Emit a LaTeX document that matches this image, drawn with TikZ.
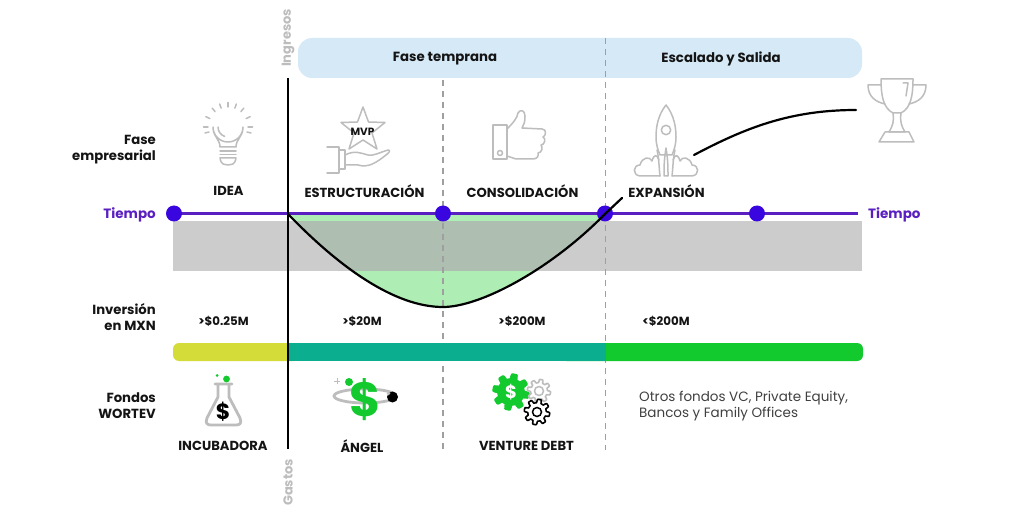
\documentclass[tikz,border=0pt]{standalone}
\usepackage{fontspec}
\setmainfont{Poppins}
\definecolor{purp}{HTML}{5A1FC0}
\definecolor{dotc}{HTML}{3A06E0}
\definecolor{bandg}{HTML}{CCCCCC}
\definecolor{lgreen}{HTML}{AEEDB4}
\definecolor{mixg}{HTML}{AEBFB1}
\definecolor{skyb}{HTML}{D6E9F6}
\definecolor{icong}{HTML}{BDBDBD}
\definecolor{vivid}{HTML}{12C92E}
\definecolor{ink}{HTML}{141414}
\definecolor{barY}{HTML}{D4DC3A}
\definecolor{barT}{HTML}{0BAF8F}
\newcommand{\mygear}[6]{% x y radius line-width draw fill
  \filldraw[draw=#5,fill=#6,line width=#4pt,line join=round]
    plot[samples=145,domain=0:360,smooth] ({#1+(#3+#3*0.16*min(1,max(-1,2.5*sin(8*\x))))*cos(\x)},{#2+(#3+#3*0.16*min(1,max(-1,2.5*sin(8*\x))))*sin(\x)}) -- cycle;}
\tikzset{
  lab/.style={font=\bfseries\fontsize{13.1}{15}\selectfont,text=ink,inner sep=0pt},
  amt/.style={font=\bfseries\fontsize{11.8}{14}\selectfont,text=ink,inner sep=0pt},
  side/.style={font=\bfseries\fontsize{13.2}{16}\selectfont,text=ink,inner sep=0pt,align=right,anchor=east},
  head/.style={font=\bfseries\fontsize{13.3}{15}\selectfont,text=ink,inner sep=0pt},
  tiempo/.style={font=\bfseries\fontsize{13.5}{15}\selectfont,text=purp,inner sep=0pt},
  axislab/.style={font=\bfseries\fontsize{13}{14}\selectfont,text=icong,inner sep=0pt,rotate=90},
  dotn/.style={circle,fill=dotc,minimum size=16pt,inner sep=0pt},
  guide/.style={draw=gray!75,line width=1.4pt,dash pattern=on 6pt off 5pt},
  ico/.style={draw=icong,line width=1.5pt,line join=round,line cap=round},
  curveline/.style={draw=black,line width=2.2pt,line cap=round},
}
\begin{document}
\begin{tikzpicture}[x=1pt,y=-1pt]
\useasboundingbox (0,0) rectangle (1024,518);
\fill[white] (0,0) rectangle (1024,518);
% top band
\fill[skyb,rounded corners=14pt] (298,38) rectangle (862,78);
\node[head] (ft) at (445,58.5) {Fase temprana};
\node[head] (es) at (721,58.5) {Escalado y Salida};
% gray band + green bowl
\fill[bandg] (173,221) rectangle (862,271);
\fill[lgreen] (288,214) .. controls (340,268) and (395,307) .. (443,307) .. controls (480,307) and (550,270) .. (605,214) -- cycle;
\begin{scope}
\clip (288,214) .. controls (340,268) and (395,307) .. (443,307) .. controls (480,307) and (550,270) .. (605,214) -- cycle;
\fill[mixg] (173,221) rectangle (862,271);
\end{scope}
% dashed guides
\coordinate (d1a) at (443,80); \coordinate (d1b) at (443,450);
\coordinate (d2a) at (605.5,38); \coordinate (d2b) at (605.5,450);
\draw[guide] (d1a) -- (d1b);
\draw[guide] (d2a) -- (d2b);
% bars
\fill[rounded corners=6pt,fill=vivid] (560,343) rectangle (863,361);
\fill[rounded corners=6pt,fill=barY] (173,343) rectangle (300,361);
\fill[fill=barT] (288,343) rectangle (606,361);
% time line
\coordinate (t0) at (174,213.5); \coordinate (t1) at (858,213.5);
\draw[purp,line width=2.4pt] (t0) -- (t1);
\node[dotn] (n1) at (174,213.5) {};
\node[dotn] (n2) at (443,213.5) {};
\node[dotn] (n3) at (605,213.5) {};
\node[dotn] (n4) at (757,213.5) {};
\node[tiempo,anchor=east] (tl) at (156,214.5) {Tiempo};
\node[tiempo,anchor=west] (tr) at (868,214.5) {Tiempo};
% vertical axis
\coordinate (ax0) at (288,78); \coordinate (ax1) at (288,449);
\draw[black,line width=2.2pt] (ax0) -- (ax1);
\node[axislab] (ing) at (288,38) {Ingresos};
\node[axislab] (gas) at (288,482.5) {Gastos};
% curve
\draw[curveline] (288,214) .. controls (340,268) and (395,307) .. (443,307) .. controls (480,307) and (550,270) .. (605,214) -- (622,198);
\draw[curveline] (694,155) .. controls (745,128) and (790,110) .. (856,110);
% side labels
\node[side] (s1) at (156,150) {Fase\\empresarial};
\node[side] (s2) at (156,317) {Inversión\\en MXN};
\node[side] (s3) at (156,405.5) {Fondos\\WORTEV};
% phase labels
\node[lab] (p1) at (228.5,191) {IDEA};
\node[lab] (p2) at (364.5,191) {ESTRUCTURACIÓN};
\node[lab] (p3) at (522.5,191) {CONSOLIDACIÓN};
\node[lab] (p4) at (666.5,191) {EXPANSIÓN};
% amounts
\node[amt] (a1) at (223.5,321) {>\$0.25M};
\node[amt] (a2) at (362,321) {>\$20M};
\node[amt] (a3) at (522,321) {>\$200M};
\node[amt] (a4) at (666,321) {<\$200M};
% funds
\node[lab] (f1) at (223,446) {INCUBADORA};
\node[lab] (f2) at (362,446) {ÁNGEL};
\node[lab] (f3) at (526.5,446) {VENTURE DEBT};
\node[inner sep=0pt,anchor=west,align=left,text=black!75,font=\fontsize{13.5}{16}\selectfont] (otros) at (639,406.5) {Otros fondos VC, Private Equity,\\Bancos y Family Offices};
% bulb
\draw[ico] (220,147) .. controls (220,139) and (213,137) .. (213,127) arc[start angle=180,end angle=0,radius=15] .. controls (243,137) and (236,139) .. (236,147) -- cycle;
\draw[ico] (218,127) arc[start angle=180,end angle=110,radius=10];
\draw[ico] (220,151) -- (236,151) (220,154.5) -- (236,154.5);
\draw[ico] (220,158) .. controls (221,165) and (225,165) .. (228,165) .. controls (231,165) and (235,165) .. (236,158) -- cycle;
\foreach \a in {0,25,50,70,90,110,130,155,180}{\draw[ico] ({228+20*cos(\a)},{127-20*sin(\a)}) -- ({228+24.5*cos(\a)},{127-24.5*sin(\a)});}
\draw[ico] (205,133) -- (209,132) (247,132) -- (251,133);
% star + hand
\draw[ico] (363,107) -- (368.5,122) -- (385,122.5) -- (372,133) -- (377,149) -- (363,140) -- (349,149) -- (354,133) -- (341,122.5) -- (357.5,122) -- cycle;
\node[font=\bfseries\fontsize{10.5}{11}\selectfont,text=ink,inner sep=0pt] (mvp) at (362.5,132) {MVP};
\draw[ico] (327,147) -- (339,147) -- (339,173) -- (327,173);
\draw[ico] (339,150) -- (345,150) -- (345,169) -- (339,169);
\draw[ico] (345,155) .. controls (355,150) and (360,153) .. (368,155) .. controls (374,156) and (378,153) .. (388,150) .. controls (391,150) and (389,153) .. (386,155) .. controls (376,163) and (368,168) .. (358,165) -- (345,165);
% thumb
\draw[ico] (493,125) rectangle (507,159);
\draw[ico] (507,129) .. controls (514,122) and (517,118) .. (518,113) .. controls (520,109) and (525,110) .. (525,116) .. controls (525,122) and (524,125) .. (522,128) -- (542,129) .. controls (547,129) and (546,136) .. (543,137) .. controls (546,138) and (545,145) .. (541,145) .. controls (543,147) and (542,153) .. (538,153) .. controls (539,156) and (537,159) .. (533,159) -- (516,159) -- (507,156);
\draw[ico] (500,153) circle (2.5);
% rocket
\draw[ico] (666,105) .. controls (658,115) and (656,127) .. (656,137) .. controls (656,145) and (658,150) .. (660,155) -- (672,155) .. controls (674,150) and (676,145) .. (676,137) .. controls (676,127) and (674,115) .. (666,105) -- cycle;
\draw[ico] (666,130) circle (4.7);
\draw[ico] (666,148) .. controls (664,160) and (664,168) .. (664,176) -- (668,176) .. controls (668,168) and (668,160) .. (666,148);
\draw[ico] (657,150) .. controls (659,158) and (659,168) .. (660,176) (675,150) .. controls (673,158) and (673,168) .. (672,176);
\draw[ico] (660,176) -- (640,176) .. controls (632,175) and (633,165) .. (640,165) .. controls (642,157) and (650,156) .. (652,161) .. controls (654,154) and (657,154) .. (659,160);
\draw[ico] (672,176) -- (692,176) .. controls (700,175) and (699,165) .. (692,165) .. controls (690,157) and (682,156) .. (680,161) .. controls (678,154) and (675,154) .. (673,160);
% trophy
\draw[ico] (881,79) -- (913,79) .. controls (913,95) and (911,108) .. (901,113) -- (893,113) .. controls (883,108) and (881,95) .. (881,79) -- cycle;
\draw[ico] (881,85) -- (868,85) .. controls (868,97) and (876,102) .. (885,104);
\draw[ico] (913,85) -- (926,85) .. controls (926,97) and (918,102) .. (909,104);
\draw[ico] (893,113) .. controls (894,122) and (893,125) .. (889,132) -- (905,132) .. controls (901,125) and (900,122) .. (901,113);
\draw[ico] (885,132) -- (909,132) -- (914,142) -- (879,142) -- cycle;
\draw[ico] (903,83) -- (908,83) -- (906,96);
% flask
\draw[ico,line width=2.8pt] (215,384) -- (232,384) (218,384) -- (218,397) -- (207,418) .. controls (205,423) and (207,425) .. (211,425) -- (236,425) .. controls (240,425) and (242,423) .. (240,418) -- (229,397) -- (229,384);
\node[inner sep=0pt,font=\bfseries\fontsize{22}{22}\selectfont,text=black] (fl) at (223,412) {\$};
\fill[vivid] (226.5,379) circle (3.4);
\fill[vivid] (217,375.5) circle (1.5);
% angel
\draw[icong,line width=2.8pt] (365,396) ellipse (31 and 7);
\node[inner sep=0pt,font=\bfseries\fontsize{48}{48}\selectfont,text=vivid] (ang) at (365,400) {\$};
\fill[black] (392.5,397) circle (5.5);
\fill[icong] (388.5,393.5) circle (1.8);
\fill[vivid] (349,382) circle (4);
\draw[icong,line width=1pt] (334,381) -- (340,381) (337,378) -- (337,384);
% gears
\mygear{511}{392}{15.5}{1.5}{vivid}{vivid}
\node[inner sep=0pt,font=\bfseries\fontsize{18}{18}\selectfont,text=white] (vd) at (511,392) {\$};
\mygear{539}{391}{10}{1.6}{icong}{white}
\draw[icong,line width=1.5pt] (539,391) circle (4.5);
\mygear{537}{412}{11}{1.6}{black}{white}
\draw[black,line width=1.5pt] (537,412) circle (4.5);
\end{tikzpicture}
\end{document}
